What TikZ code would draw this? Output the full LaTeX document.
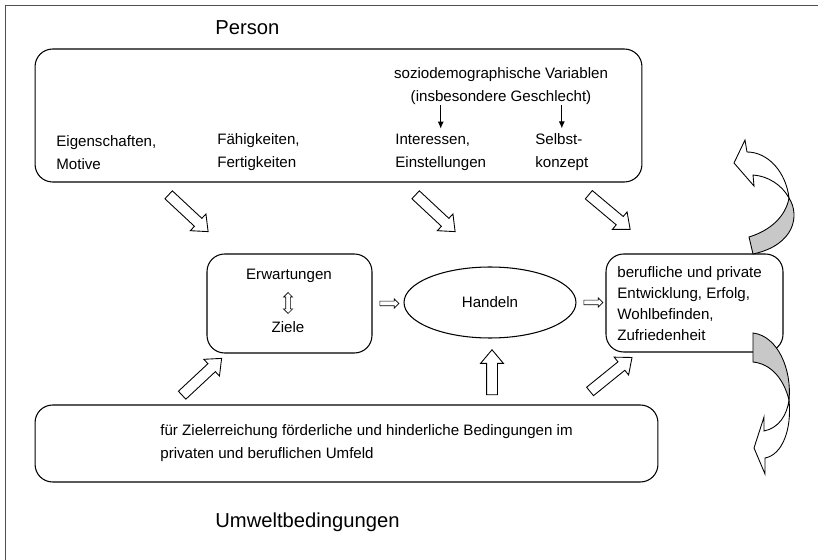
\documentclass[tikz,border=0pt]{standalone}
\usepackage{fontspec}
\setmainfont{Liberation Sans}
\usetikzlibrary{positioning,shapes.geometric,shapes.arrows,arrows.meta}

\definecolor{ribbon}{RGB}{200,200,200}
\definecolor{framecol}{RGB}{80,80,80}

\begin{document}
\begin{tikzpicture}[x=0.02cm, y=-0.02cm,
    txt/.style={inner sep=0pt, align=left, font=\fontsize{8.6}{13}\selectfont},
    heading/.style={inner sep=0pt, anchor=west, font=\fontsize{11.5}{14}\selectfont},
    rbox/.style={draw, rounded corners=10pt, line width=0.6pt},
    bigarrow/.style={draw, fill=white, single arrow, inner sep=0.1cm,
        single arrow tip angle=80, single arrow head extend=0.12cm,
        minimum height=1.08cm, line width=0.5pt},
    smallarrow/.style={draw, single arrow, inner sep=0.04cm,
        single arrow head extend=0.045cm, minimum height=0.38cm, line width=0.4pt},
    dblarrow/.style={draw, double arrow, inner sep=0.04cm,
        double arrow head extend=0.045cm, minimum height=0.42cm, line width=0.4pt},
    dnarrow/.style={-{Latex[length=1.4mm,width=1.2mm]}, line width=0.6pt, shorten >=3pt}]

    \useasboundingbox (0,0) rectangle (818,560);
    % frame
    \draw[framecol, line width=0.5pt] (5,560) -- (5,5) -- (818,5);

    % Person
    \node[heading] (persontitle) at (215,28) {Person};
    \node[rbox, minimum width=12.14cm, minimum height=2.66cm] (person) at (338.5,115.5) {};
    \node[txt, align=center] (soz) at (501,86.5) {soziodemographische Variablen\\(insbesondere Geschlecht)};
    \node[txt, anchor=west] (eig) at (56,152.5) {Eigenschaften,\\Motive};
    \node[txt, anchor=west] (fae) at (217,152.5) {Fähigkeiten,\\Fertigkeiten};
    \node[txt, anchor=west] (int) at (395,152.5) {Interessen,\\Einstellungen};
    \node[txt, anchor=west] (selbst) at (535,152.5) {Selbst-\\konzept};
    \draw[dnarrow] (soz.south -| int.north) -- (int.north);
    \draw[dnarrow] (soz.south -| selbst.north) -- (selbst.north);

    % Person -> middle row
    \node[bigarrow, rotate=-43] (p1) at (186,211) {};
    \node[bigarrow, rotate=-43] (p2) at (433,211) {};
    \node[bigarrow, rotate=-40] (p3) at (607,210) {};

    % middle row
    \node[rbox, minimum width=3.3cm, minimum height=1.98cm] (erw) at (289.5,303.5) {};
    \node[txt] (erwtxt) at (289,276) {Erwartungen};
    \node[dblarrow, rotate=90] (erwzi) at (288,303) {};
    \node[txt] (ziele) at (288,327) {Ziele};
    \node[smallarrow, right=0.14cm of erw] (erwhand) {};
    \node[draw, ellipse, line width=0.6pt, minimum width=3.44cm, minimum height=1.42cm,
        inner sep=0pt, font=\fontsize{8.6}{13}\selectfont] (hand) at (490,302.5) {Handeln};
    \node[smallarrow, right=0.14cm of hand] (handerg) {};
    \node[rbox, minimum width=3.54cm, minimum height=1.96cm] (erg) at (694.5,303) {};
    \node[txt, anchor=west, font=\fontsize{8.6}{12}\selectfont] (ergtxt) at (617,303.5)
        {berufliche und private\\Entwicklung, Erfolg,\\Wohlbefinden,\\Zufriedenheit};

    % feedback arrows
    \filldraw[fill=ribbon, line width=0.5pt] (749,237) .. controls (772,230) and (786,215) .. (789,198)
        .. controls (800,215) and (795,245) .. (753,254) -- cycle;
    \filldraw[fill=white, line width=0.5pt] (789,198) .. controls (786,172) and (768,152) .. (747,152)
        -- (745,140) -- (734,163) -- (754,186) -- (753,175)
        .. controls (768,176) and (782,185) .. (789,198) -- cycle;
    \filldraw[fill=ribbon, line width=0.5pt] (753,333) .. controls (778,336) and (792,370) .. (789,400)
        .. controls (784,380) and (772,364) .. (753,362) -- cycle;
    \filldraw[fill=white, line width=0.5pt] (789,400) .. controls (787,415) and (779,428) .. (764,431)
        -- (764,417) -- (754,448) -- (765,474) -- (765,458)
        .. controls (782,455) and (792,430) .. (789,400) -- cycle;

    % Umwelt -> middle row
    \node[bigarrow, rotate=43] (u1) at (199.5,379) {};
    \node[bigarrow, rotate=90, minimum height=0.9cm] (u2) at (492,375.5) {};
    \node[bigarrow, rotate=39] (u3) at (608.5,376.5) {};

    % Umweltbedingungen
    \node[rbox, minimum width=12.46cm, minimum height=1.54cm] (umwelt) at (346.5,443.5) {};
    \node[txt, anchor=west] (umwelttxt) at (160,443.5) {für Zielerreichung förderliche und hinderliche Bedingungen im\\privaten und beruflichen Umfeld};
    \node[heading] (umwelttitle) at (215,522) {Umweltbedingungen};
\end{tikzpicture}
\end{document}
